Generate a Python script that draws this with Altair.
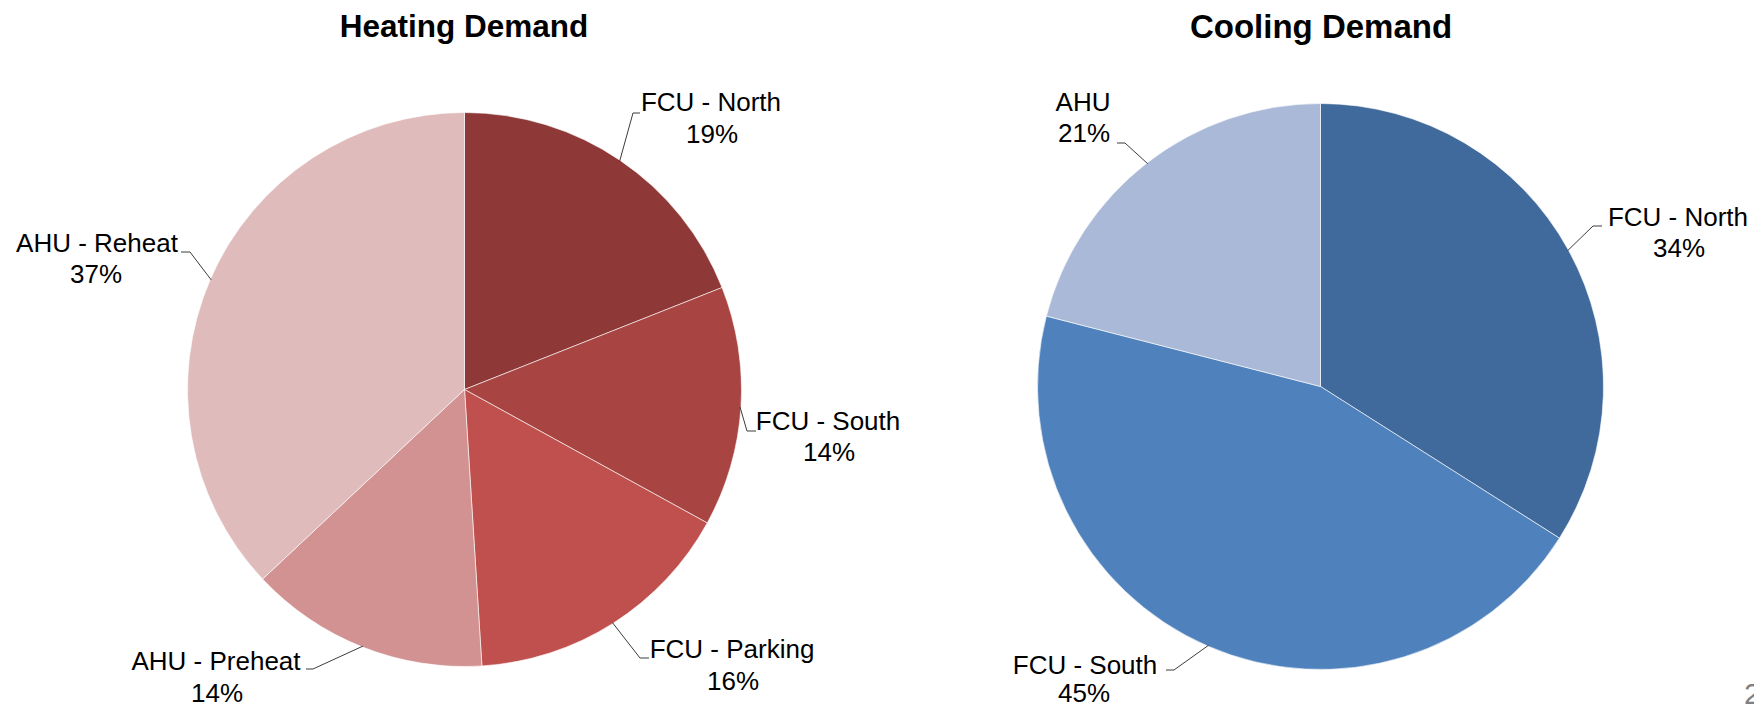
import math
import altair as alt
import pandas as pd

# ---------------- data ----------------
heat_cats = ["FCU - North", "FCU - South", "FCU - Parking", "AHU - Preheat", "AHU - Reheat"]
heat_vals = [19, 14, 16, 14, 37]
cool_cats = ["FCU - North", "FCU - South", "AHU"]
cool_vals = [34, 45, 21]
titles = ["Heating Demand", "Cooling Demand"]
page_number = "2"

# ---------------- styles / layout ----------------
heat_colors = ["#8E3937", "#A84543", "#C0504D", "#D19291", "#E0BBBB"]
cool_colors = ["#406A9B", "#4F81BD", "#AAB9D7"]

W, H = 1746, 699
M = 8  # page margin
FONT = "Liberation Sans"

HEAT_C, HEAT_R = (464.5, 389.5), 277
COOL_C, COOL_R = (1320.5, 386.5), 283

# leader elbow / end and label anchors (page pixels): (x, y)
heat_layout = {
    "FCU - North":   dict(elbow=(633, 113), end=(640, 113), name=(711, 111), pct=(712, 143)),
    "FCU - South":   dict(elbow=(747, 431), end=(756, 431), name=(828, 430), pct=(829, 461)),
    "FCU - Parking": dict(elbow=(640, 658), end=(649, 658), name=(732, 658), pct=(733, 690)),
    "AHU - Preheat": dict(elbow=(313, 669), end=(306, 669), name=(216, 670), pct=(217, 702)),
    "AHU - Reheat":  dict(elbow=(190, 252), end=(181, 252), name=(97, 252), pct=(96, 283)),
}
cool_layout = {
    "FCU - North": dict(elbow=(1593, 226), end=(1602, 226), name=(1678, 226), pct=(1679, 257)),
    "FCU - South": dict(elbow=(1174, 670), end=(1166, 670), name=(1085, 674), pct=(1084, 702)),
    "AHU":         dict(elbow=(1125, 143), end=(1117, 143), name=(1083, 111), pct=(1084, 142)),
}


def build(cats, vals, colors, center, R, layout):
    total = sum(vals)
    arc_rows, txt_rows, seg_rows = [], [], []
    cum = 0.0
    for i, (c, v, col) in enumerate(zip(cats, vals, colors)):
        mid = (cum + v / 2.0) / total * 2 * math.pi
        cum += v
        rim = (center[0] + (R - 1) * math.sin(mid), center[1] - (R - 1) * math.cos(mid))
        L = layout[c]
        arc_rows.append(dict(idx=i, cat=c, value=v, color=col))
        txt_rows.append(dict(x=L["name"][0] - M, y=L["name"][1] - M, text=c))
        txt_rows.append(dict(x=L["pct"][0] - M, y=L["pct"][1] - M, text=f"{v}%"))
        seg_rows.append(dict(x1=rim[0] - M, y1=rim[1] - M, x2=L["elbow"][0] - M, y2=L["elbow"][1] - M))
        seg_rows.append(dict(x1=L["elbow"][0] - M, y1=L["elbow"][1] - M, x2=L["end"][0] - M, y2=L["end"][1] - M))
    return pd.DataFrame(arc_rows), txt_rows, seg_rows


heat_df, heat_txt, heat_seg = build(heat_cats, heat_vals, heat_colors, HEAT_C, HEAT_R, heat_layout)
cool_df, cool_txt, cool_seg = build(cool_cats, cool_vals, cool_colors, COOL_C, COOL_R, cool_layout)


def pie(df, center, R):
    return alt.Chart(df).mark_arc(radius=R, stroke="#ffffff", strokeWidth=0.6).encode(
        theta=alt.Theta("value:Q", stack=True),
        order=alt.Order("idx:Q"),
        color=alt.Color("color:N", scale=None, legend=None),
        x=alt.value(center[0] - M),
        y=alt.value(center[1] - M),
    )


labels_df = pd.DataFrame(heat_txt + cool_txt)
segs_df = pd.DataFrame(heat_seg + cool_seg)
title_df = pd.DataFrame([
    dict(x=464 - M, y=37 - M, text=titles[0], fs=31.5),
    dict(x=1321 - M, y=38 - M, text=titles[1], fs=33),
])
pn_df = pd.DataFrame([dict(x=1744 - M, y=704 - M, text=page_number)])

leaders = alt.Chart(segs_df).mark_rule(color="#3c3c3c", strokeWidth=1).encode(
    x=alt.X("x1:Q", scale=None, axis=None),
    y=alt.Y("y1:Q", scale=None, axis=None),
    x2="x2:Q",
    y2="y2:Q",
)

labels = alt.Chart(labels_df).mark_text(
    font=FONT, fontSize=26, align="center", baseline="alphabetic", color="#000000"
).encode(
    x=alt.X("x:Q", scale=None, axis=None),
    y=alt.Y("y:Q", scale=None, axis=None),
    text="text:N",
)

title_text = alt.Chart(title_df).mark_text(
    font=FONT, fontWeight="bold", align="center", baseline="alphabetic", color="#000000"
).encode(
    x=alt.X("x:Q", scale=None, axis=None),
    y=alt.Y("y:Q", scale=None, axis=None),
    size=alt.Size("fs:Q", scale=None, legend=None),
    text="text:N",
)

pn_text = alt.Chart(pn_df).mark_text(
    font=FONT, fontSize=30, align="left", baseline="alphabetic", color="#808080"
).encode(
    x=alt.X("x:Q", scale=None, axis=None),
    y=alt.Y("y:Q", scale=None, axis=None),
    text="text:N",
)

chart = alt.layer(
    pie(heat_df, HEAT_C, HEAT_R),
    pie(cool_df, COOL_C, COOL_R),
    leaders,
    labels,
    title_text,
    pn_text,
).resolve_scale(theta="independent").properties(
    width=W,
    height=H,
    padding=0,
    autosize=alt.AutoSizeParams(type="none"),
).configure_view(stroke=None)

chart.save("out.html", embed_options={"renderer": "svg", "actions": False})
